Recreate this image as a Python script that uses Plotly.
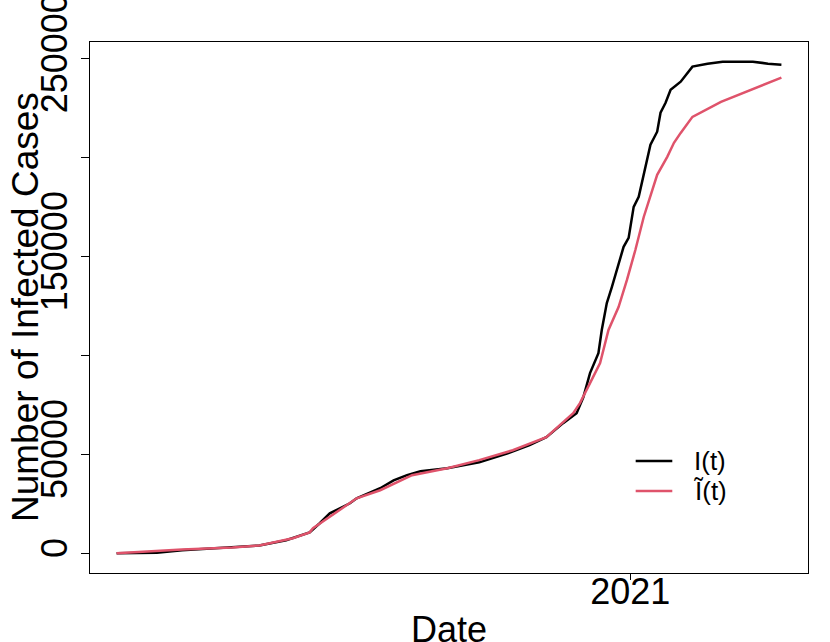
"""Infected cases: observed I(t) vs fitted Ĩ(t)."""
import pandas as pd
import plotly.graph_objects as go

# observed I(t)
obs_dates = [
    '2020-03-01', '2020-03-25', '2020-04-09', '2020-05-09', '2020-05-25',
    '2020-06-10', '2020-06-24', '2020-06-30', '2020-07-06', '2020-07-18',
    '2020-07-22', '2020-08-05', '2020-08-13', '2020-08-21', '2020-08-29',
    '2020-09-14', '2020-10-03', '2020-10-20', '2020-11-02', '2020-11-12',
    '2020-11-22', '2020-11-30', '2020-12-04', '2020-12-08', '2020-12-13',
    '2020-12-15', '2020-12-18', '2020-12-21', '2020-12-25', '2020-12-28',
    '2020-12-31', '2021-01-03', '2021-01-06', '2021-01-10', '2021-01-13',
    '2021-01-17', '2021-01-19', '2021-01-22', '2021-01-25', '2021-01-31',
    '2021-02-07', '2021-02-16', '2021-02-25', '2021-03-15', '2021-03-24',
    '2021-04-01',
]
obs_cases = [
    0, 300, 1500, 3000, 4000,
    6600, 10600, 15200, 20200, 25300,
    27800, 32900, 36900, 39500, 41500,
    43000, 46000, 50600, 54700, 58700,
    65800, 70800, 78900, 91100, 101200,
    112900, 126500, 134600, 146800, 154900,
    159400, 175100, 180200, 195300, 206500,
    213100, 222700, 227700, 234300, 238400,
    246000, 247500, 248500, 248500, 247500,
    247000,
]

# fitted Ĩ(t)
fit_dates = [
    '2020-03-01', '2020-04-09', '2020-05-09', '2020-05-25', '2020-06-14',
    '2020-06-24', '2020-06-26', '2020-07-18', '2020-07-22', '2020-08-05',
    '2020-08-24', '2020-09-14', '2020-10-03', '2020-10-23', '2020-11-12',
    '2020-11-28', '2020-12-02', '2020-12-08', '2020-12-14', '2020-12-19',
    '2020-12-25', '2020-12-30', '2021-01-04', '2021-01-09', '2021-01-17',
    '2021-01-23', '2021-01-27', '2021-01-31', '2021-02-07', '2021-02-24',
    '2021-03-11', '2021-04-01',
]
fit_cases = [
    0, 2000, 3000, 4000, 7600,
    10600, 12700, 25300, 27800, 31900,
    39500, 43000, 47100, 52100, 58700,
    70800, 75900, 86000, 96200, 112900,
    124500, 138200, 153300, 170000, 191300,
    200400, 207500, 212500, 220600, 228200,
    233300, 240400,
]

y_ticks = [0, 50000, 100000, 150000, 200000, 250000]
y_labels = ['0', '50000', '', '150000', '', '250000']
x_ticks = ['2021-01-01']
x_labels = ['2021']
legend_labels = ['I(t)', 'Ĩ(t)']
colors = ['black', '#DF536B']

FONT = 'Liberation Sans, Arial, sans-serif'

fig = go.Figure()
fig.add_trace(go.Scatter(
    x=obs_dates, y=obs_cases, mode='lines', name=legend_labels[0],
    line=dict(color=colors[0], width=2.5), showlegend=False,
))
fig.add_trace(go.Scatter(
    x=fit_dates, y=fit_cases, mode='lines', name=legend_labels[1],
    line=dict(color=colors[1], width=2.5), showlegend=False,
))

# R-style 4% padding on both axes
d0, d1 = pd.Timestamp(obs_dates[0]), pd.Timestamp(obs_dates[-1])
pad = (d1 - d0) * 0.04
ymax = max(max(obs_cases), max(fit_cases))

axis_common = dict(
    showline=True, mirror=True, linecolor='black', linewidth=1,
    ticks='outside', tickcolor='black', tickwidth=1,
    showgrid=False, zeroline=False, automargin=False,
    ticklabeloverflow='allow',
    tickfont=dict(family=FONT, size=36, color='black'),
)

# hand-drawn legend, R style (no box)
legend_shapes, legend_notes = [], []
for i, (lab, col) in enumerate(zip(legend_labels, colors)):
    yy = 0.211 - i * 0.0565
    legend_shapes.append(dict(type='line', xref='paper', yref='paper',
                              x0=0.760, x1=0.811, y0=yy, y1=yy,
                              line=dict(color=col, width=2.5)))
    legend_notes.append(dict(text=lab, xref='paper', yref='paper',
                             x=0.838, y=yy, xanchor='left', yanchor='middle',
                             showarrow=False,
                             font=dict(family=FONT, size=26, color='black')))

fig.update_layout(
    width=830, height=642,
    margin=dict(l=90, r=22, t=42, b=69),
    paper_bgcolor='white', plot_bgcolor='white',
    font=dict(family=FONT, color='black'),
    showlegend=False,
    xaxis=dict(
        range=[d0 - pad, d1 + pad],
        tickvals=x_ticks, ticktext=x_labels,
        ticklen=6, ticklabelstandoff=-19,
        **axis_common,
    ),
    yaxis=dict(
        range=[-0.04 * ymax, 1.04 * ymax],
        tickvals=y_ticks, ticktext=y_labels, tickangle=-90, ticklen=8,
        **axis_common,
    ),
    shapes=legend_shapes,
    annotations=legend_notes + [
        dict(text='Date', xref='paper', yref='paper', x=0.5, y=0,
             xanchor='center', yanchor='top', yshift=-34, showarrow=False,
             font=dict(family=FONT, size=36, color='black')),
        dict(text='Number of Infected Cases', xref='paper', yref='paper',
             x=0, y=0.5, xanchor='right', yanchor='middle', xshift=-42,
             textangle=-90, showarrow=False,
             font=dict(family=FONT, size=37, color='black')),
    ],
)

# drop the default 8px page margin so the figure fills the window
fig.write_html("out.html", config={'displayModeBar': False},
               post_script="document.body.style.margin='0';")
